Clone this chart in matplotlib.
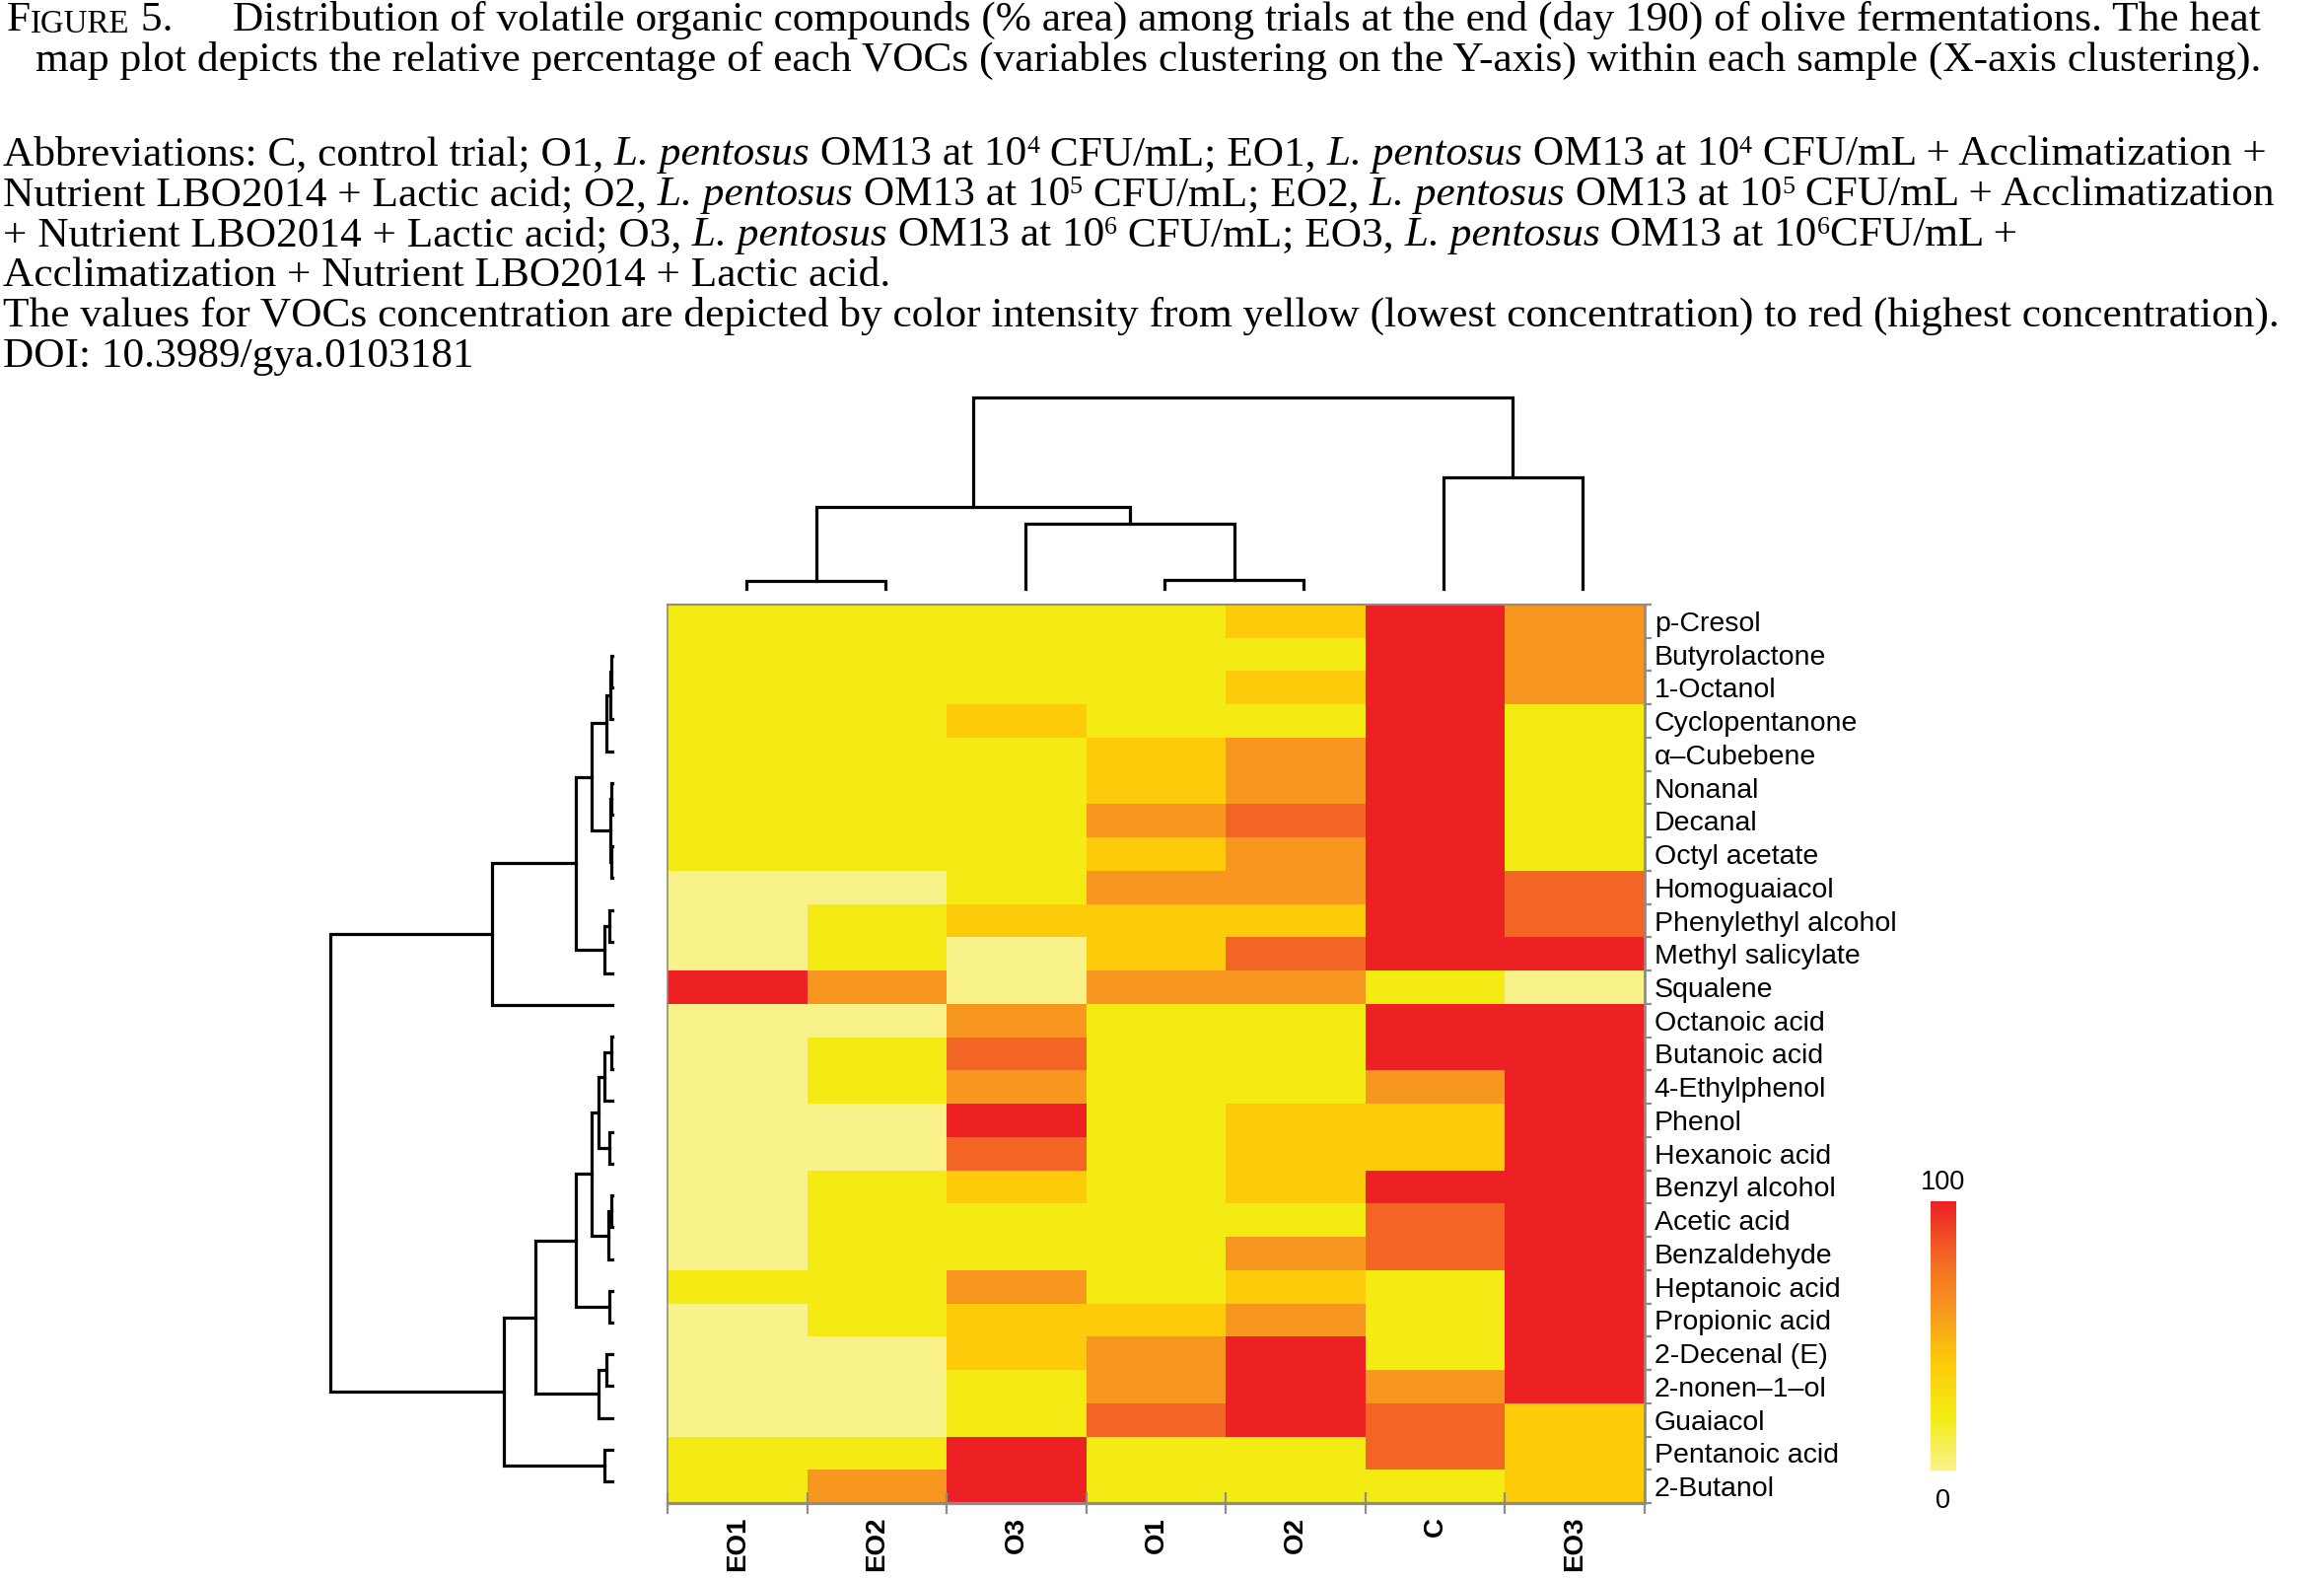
import numpy as np
import matplotlib
matplotlib.use("Agg")
import matplotlib.pyplot as plt
from matplotlib.colors import LinearSegmentedColormap

# --- datos ---
samples = ['EO1', 'EO2', 'O3', 'O1', 'O2', 'C', 'EO3']
compounds = ['p-Cresol', 'Butyrolactone', '1-Octanol', 'Cyclopentanone', 'α–Cubebene',
             'Nonanal', 'Decanal', 'Octyl acetate', 'Homoguaiacol', 'Phenylethyl alcohol',
             'Methyl salicylate', 'Squalene', 'Octanoic acid', 'Butanoic acid',
             '4-Ethylphenol', 'Phenol', 'Hexanoic acid', 'Benzyl alcohol', 'Acetic acid',
             'Benzaldehyde', 'Heptanoic acid', 'Propionic acid', '2-Decenal (E)',
             '2-nonen–1–ol', 'Guaiacol', 'Pentanoic acid', '2-Butanol']

EO1 = [20, 20, 20, 20, 20, 20, 20, 20, 0, 0, 0, 100, 0, 0, 0, 0, 0, 0, 0, 0,
       20, 0, 0, 0, 0, 20, 20]
EO2 = [20, 20, 20, 20, 20, 20, 20, 20, 0, 20, 20, 60, 0, 20, 20, 0, 0, 20, 20, 20,
       20, 20, 0, 0, 0, 20, 60]
O3 = [20, 20, 20, 40, 20, 20, 20, 20, 20, 40, 0, 0, 60, 80, 60, 100, 80, 40, 20, 20,
      60, 40, 40, 20, 20, 100, 100]
O1 = [20, 20, 20, 20, 40, 40, 60, 40, 60, 40, 40, 60, 20, 20, 20, 20, 20, 20, 20, 20,
      20, 40, 60, 60, 80, 20, 20]
O2 = [40, 20, 40, 20, 60, 60, 80, 60, 60, 40, 80, 60, 20, 20, 20, 40, 40, 40, 20, 60,
      40, 60, 100, 100, 100, 20, 20]
C = [100, 100, 100, 100, 100, 100, 100, 100, 100, 100, 100, 20, 100, 100, 60, 40, 40,
     100, 80, 80, 20, 20, 20, 60, 80, 80, 20]
EO3 = [60, 60, 60, 20, 20, 20, 20, 20, 80, 80, 100, 0, 100, 100, 100, 100, 100, 100,
       100, 100, 100, 100, 100, 100, 40, 40, 40]

# uniones de los dendrogramas: (hijo1, hijo2, altura)
row_merges = [(0, 1, 0.6), (27, 2, 1.0), (28, 3, 4.0), (4, 5, 0.5), (6, 7, 0.7),
              (30, 31, 1.1), (29, 32, 13.9), (8, 9, 1.8), (34, 10, 5.0), (33, 35, 24.5),
              (36, 11, 81.0), (12, 13, 0.6), (38, 14, 5.1), (15, 16, 1.8), (39, 40, 9.1),
              (17, 18, 0.6), (42, 19, 2.8), (41, 43, 13.9), (20, 21, 1.8), (44, 45, 24.5),
              (22, 23, 4.0), (47, 24, 9.5), (46, 48, 51.9), (25, 26, 5.1), (49, 50, 73.5),
              (37, 51, 190.5)]
col_merges = [(0, 1, 7.7), (3, 4, 8.3), (2, 8, 66.0), (7, 9, 82.3), (5, 6, 112.3),
              (10, 11, 193.3)]

W, H = 2357, 1600
fig = plt.figure(figsize=(W / 100, H / 100), dpi=100)


def box(left, top, right, bottom):
    return [left / W, 1 - bottom / H, (right - left) / W, (bottom - top) / H]


def dendro(ax, merges, n, side):
    pos = {i: float(i) for i in range(n)}
    hgt = {i: 0.0 for i in range(n)}
    for k, (a, b, h) in enumerate(merges):
        xs = [pos[a], pos[a], pos[b], pos[b]]
        ys = [hgt[a], h, h, hgt[b]]
        if side == 'top':
            ax.plot(xs, ys, color='black', lw=2.3, clip_on=False, solid_joinstyle='miter')
        else:
            ax.plot(ys, xs, color='black', lw=2.3, clip_on=False, solid_joinstyle='miter')
        pos[n + k] = (pos[a] + pos[b]) / 2
        hgt[n + k] = h
    ax.axis('off')


# --- mapa de calor ---
data = np.array([EO1, EO2, O3, O1, O2, C, EO3]).T
cmap = LinearSegmentedColormap.from_list(
    'voc', ['#F9F28B', '#F5EB14', '#FDCB0A', '#F7971F', '#F26524', '#ED2024'])

ax = fig.add_axes(box(677, 613, 1668, 1524))
mesh = ax.pcolormesh(np.arange(len(samples) + 1), np.arange(len(compounds) + 1), data,
                     cmap=cmap, vmin=0, vmax=100)
ax.set_xlim(0, len(samples))
ax.set_ylim(len(compounds), 0)
grey = '#8C8C8C'
for s, w in zip(['top', 'left', 'bottom', 'right'], [1.5, 1.2, 2.3, 2.0]):
    ax.spines[s].set_color(grey)
    ax.spines[s].set_linewidth(w)

ax.set_xticks(np.arange(len(samples) + 1))
ax.set_xticklabels([])
ax.set_xticks(np.arange(len(samples)) + 0.5, minor=True)
ax.set_xticklabels(samples, minor=True, rotation=90, fontsize=20, fontweight='bold',
                   family='Liberation Sans', va='top')
ax.tick_params(axis='x', which='major', direction='inout', length=16, width=1.6, color=grey)
ax.tick_params(axis='x', which='minor', length=0, pad=10)

ax.yaxis.tick_right()
ax.set_yticks(np.arange(len(compounds) + 1))
ax.set_yticklabels([])
ax.set_yticks(np.arange(len(compounds)) + 0.5, minor=True)
ax.set_yticklabels(compounds, minor=True, fontsize=20.5, family='Liberation Sans')
ax.tick_params(axis='y', which='major', direction='out', length=5, width=1.6, color=grey,
               right=True, left=False)
ax.tick_params(axis='y', which='minor', length=0, pad=7, right=True, left=False)

# --- dendrogramas ---
axr = fig.add_axes(box(335, 665, 621, 1502))
dendro(axr, row_merges, len(compounds), 'left')
axr.set_xlim(190.5, 0)
axr.set_ylim(len(compounds) - 1, 0)

axc = fig.add_axes(box(757, 403, 1605, 596.7))
dendro(axc, col_merges, len(samples), 'top')
axc.set_xlim(0, len(samples) - 1)
axc.set_ylim(0, 193.3)

# --- barra de color ---
cax = fig.add_axes(box(1958, 1218, 1984, 1491))
cb = fig.colorbar(mesh, cax=cax)
cb.outline.set_visible(False)
cb.set_ticks([])
fig.text(1971 / W, 1 - 1199 / H, '100', ha='center', va='center', fontsize=19.5,
         family='Liberation Sans')
fig.text(1971 / W, 1 - 1522 / H, '0', ha='center', va='center', fontsize=19.5,
         family='Liberation Sans')

# --- leyenda de la figura ---
fs = 31.2
serif = dict(family='Liberation Serif', fontsize=fs)


def caption_line(x, y, parts, ha='left'):
    # cada trozo: (texto, 'n' normal, 'i' cursiva, 's' superindice)
    t0 = fig.text(x / W, 1 - y / H, parts[0][0], va='baseline', ha=ha, **serif)
    prev = base = t0
    for s, kind in parts[1:]:
        if kind == 's':
            t = ax.annotate(s, xy=(1, 0), xycoords=(prev, base), xytext=(0, 0.38 * fs),
                            textcoords='offset points', va='bottom',
                            family='Liberation Serif', fontsize=0.6 * fs)
        else:
            t = ax.annotate(s, xy=(1, 0), xycoords=(prev, base), va='bottom',
                            style='italic' if kind == 'i' else 'normal', **serif)
            base = t
        prev = t


tF = fig.text(7 / W, 1 - 31 / H, 'F', va='baseline', **serif)
tI = ax.annotate('IGURE', xy=(1, 0), xycoords=tF, va='bottom', family='Liberation Serif',
                 fontsize=fs * 0.76)
ax.annotate(' 5.', xy=(1, 0), xycoords=tI, va='bottom', **serif)
caption_line(236, 31, [('Distribution of volatile organic compounds (% area) among trials '
                        'at the end (day 190) of olive fermentations. The heat', 'n')])
caption_line(1165, 72, [('map plot depicts the relative percentage of each VOCs (variables '
                         'clustering on the Y-axis) within each sample (X-axis clustering).',
                         'n')], ha='center')

lp = (' L. pentosus', 'i')
abbrev = [
    [('Abbreviations: C, control trial; O1,', 'n'), lp, (' OM13 at 10', 'n'), ('4', 's'),
     (' CFU/mL; EO1,', 'n'), lp, (' OM13 at 10', 'n'), ('4', 's'),
     (' CFU/mL + Acclimatization +', 'n')],
    [('Nutrient LBO2014 + Lactic acid; O2,', 'n'), lp, (' OM13 at 10', 'n'), ('5', 's'),
     (' CFU/mL; EO2,', 'n'), lp, (' OM13 at 10', 'n'), ('5', 's'),
     (' CFU/mL + Acclimatization', 'n')],
    [('+ Nutrient LBO2014 + Lactic acid; O3,', 'n'), lp, (' OM13 at 10', 'n'), ('6', 's'),
     (' CFU/mL; EO3,', 'n'), lp, (' OM13 at 10', 'n'), ('6', 's'), ('CFU/mL +', 'n')],
    [('Acclimatization + Nutrient LBO2014 + Lactic acid.', 'n')],
    [('The values for VOCs concentration are depicted by color intensity from yellow '
      '(lowest concentration) to red (highest concentration).', 'n')],
    [('DOI: 10.3989/gya.0103181', 'n')],
]
for i, parts in enumerate(abbrev):
    caption_line(3, 167 + 41 * i, parts)

fig.savefig('out.png', dpi=100)
